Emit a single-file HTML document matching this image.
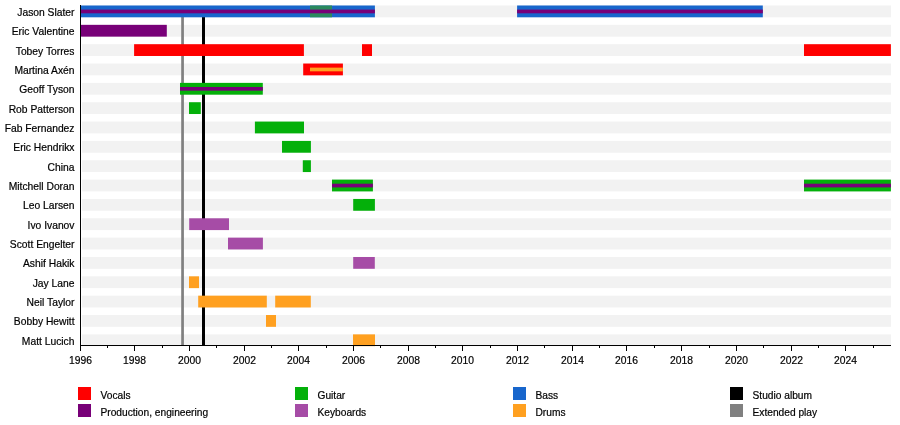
<!DOCTYPE html>
<html><head><meta charset="utf-8"><style>
html,body{margin:0;padding:0;background:#fff;width:900px;height:425px;overflow:hidden;position:relative}
svg text{font-family:"Liberation Sans",sans-serif}
svg{will-change:transform}
svg text{stroke:#000;stroke-width:0.2px}
</style></head><body>
<svg width="900" height="425" viewBox="0 0 900 425" style="position:absolute;left:0;top:0">
<rect x="82" y="5.50" width="809" height="11.8" fill="#f2f2f2"/>
<rect x="82" y="24.84" width="809" height="11.8" fill="#f2f2f2"/>
<rect x="82" y="44.19" width="809" height="11.8" fill="#f2f2f2"/>
<rect x="82" y="63.53" width="809" height="11.8" fill="#f2f2f2"/>
<rect x="82" y="82.88" width="809" height="11.8" fill="#f2f2f2"/>
<rect x="82" y="102.22" width="809" height="11.8" fill="#f2f2f2"/>
<rect x="82" y="121.57" width="809" height="11.8" fill="#f2f2f2"/>
<rect x="82" y="140.91" width="809" height="11.8" fill="#f2f2f2"/>
<rect x="82" y="160.26" width="809" height="11.8" fill="#f2f2f2"/>
<rect x="82" y="179.60" width="809" height="11.8" fill="#f2f2f2"/>
<rect x="82" y="198.95" width="809" height="11.8" fill="#f2f2f2"/>
<rect x="82" y="218.29" width="809" height="11.8" fill="#f2f2f2"/>
<rect x="82" y="237.64" width="809" height="11.8" fill="#f2f2f2"/>
<rect x="82" y="256.99" width="809" height="11.8" fill="#f2f2f2"/>
<rect x="82" y="276.33" width="809" height="11.8" fill="#f2f2f2"/>
<rect x="82" y="295.67" width="809" height="11.8" fill="#f2f2f2"/>
<rect x="82" y="315.02" width="809" height="11.8" fill="#f2f2f2"/>
<rect x="82" y="334.37" width="809" height="11.8" fill="#f2f2f2"/>
<rect x="181.2" y="17" width="2.7" height="328" fill="#808080"/>
<rect x="202" y="17" width="3" height="328" fill="#000"/>
<rect x="80.5" y="5.50" width="294.40" height="11.8" fill="#1866cc"/>
<rect x="310" y="5.50" width="22.00" height="11.8" fill="#2a8a5e"/>
<rect x="80.5" y="9.60" width="294.40" height="3.7" fill="#780078"/>
<rect x="517.1" y="5.50" width="245.70" height="11.8" fill="#1866cc"/>
<rect x="517.1" y="9.60" width="245.70" height="3.7" fill="#780078"/>
<rect x="80.5" y="24.84" width="86.30" height="11.8" fill="#780078"/>
<rect x="134.1" y="44.19" width="169.80" height="11.8" fill="#ff0000"/>
<rect x="362" y="44.19" width="10.00" height="11.8" fill="#ff0000"/>
<rect x="804" y="44.19" width="86.90" height="11.8" fill="#ff0000"/>
<rect x="303.2" y="63.53" width="39.70" height="11.8" fill="#ff0000"/>
<rect x="310" y="67.63" width="32.90" height="3.7" fill="#ffa020"/>
<rect x="180" y="82.88" width="82.80" height="11.8" fill="#04b00a"/>
<rect x="180" y="86.98" width="82.80" height="3.7" fill="#780078"/>
<rect x="189" y="102.22" width="11.80" height="11.8" fill="#04b00a"/>
<rect x="254.9" y="121.57" width="49.10" height="11.8" fill="#04b00a"/>
<rect x="282" y="140.91" width="28.90" height="11.8" fill="#04b00a"/>
<rect x="302.8" y="160.26" width="8.10" height="11.8" fill="#04b00a"/>
<rect x="332" y="179.60" width="40.90" height="11.8" fill="#04b00a"/>
<rect x="332" y="183.70" width="40.90" height="3.7" fill="#780078"/>
<rect x="804" y="179.60" width="86.90" height="11.8" fill="#04b00a"/>
<rect x="804" y="183.70" width="86.90" height="3.7" fill="#780078"/>
<rect x="353.2" y="198.95" width="21.70" height="11.8" fill="#04b00a"/>
<rect x="189.2" y="218.29" width="39.80" height="11.8" fill="#a64ca6"/>
<rect x="228" y="237.64" width="34.90" height="11.8" fill="#a64ca6"/>
<rect x="353.2" y="256.99" width="21.60" height="11.8" fill="#a64ca6"/>
<rect x="189" y="276.33" width="10.00" height="11.8" fill="#ffa020"/>
<rect x="198.2" y="295.67" width="68.60" height="11.8" fill="#ffa020"/>
<rect x="275.2" y="295.67" width="35.60" height="11.8" fill="#ffa020"/>
<rect x="266" y="315.02" width="10.00" height="11.8" fill="#ffa020"/>
<rect x="353" y="334.37" width="22.00" height="11.8" fill="#ffa020"/>
<rect x="80" y="5" width="1" height="346" fill="#000"/>
<rect x="80" y="345" width="811" height="1" fill="#000"/>
<rect x="80" y="345" width="1" height="6" fill="#000"/>
<text x="80.50" y="364" text-anchor="middle" font-family="Liberation Sans" font-size="10.3" fill="#000">1996</text>
<rect x="107" y="345" width="1" height="3" fill="#000"/>
<rect x="134" y="345" width="1" height="6" fill="#000"/>
<text x="134.50" y="364" text-anchor="middle" font-family="Liberation Sans" font-size="10.3" fill="#000">1998</text>
<rect x="162" y="345" width="1" height="3" fill="#000"/>
<rect x="189" y="345" width="1" height="6" fill="#000"/>
<text x="189.50" y="364" text-anchor="middle" font-family="Liberation Sans" font-size="10.3" fill="#000">2000</text>
<rect x="216" y="345" width="1" height="3" fill="#000"/>
<rect x="244" y="345" width="1" height="6" fill="#000"/>
<text x="244.50" y="364" text-anchor="middle" font-family="Liberation Sans" font-size="10.3" fill="#000">2002</text>
<rect x="271" y="345" width="1" height="3" fill="#000"/>
<rect x="298" y="345" width="1" height="6" fill="#000"/>
<text x="298.50" y="364" text-anchor="middle" font-family="Liberation Sans" font-size="10.3" fill="#000">2004</text>
<rect x="326" y="345" width="1" height="3" fill="#000"/>
<rect x="353" y="345" width="1" height="6" fill="#000"/>
<text x="353.50" y="364" text-anchor="middle" font-family="Liberation Sans" font-size="10.3" fill="#000">2006</text>
<rect x="380" y="345" width="1" height="3" fill="#000"/>
<rect x="408" y="345" width="1" height="6" fill="#000"/>
<text x="408.50" y="364" text-anchor="middle" font-family="Liberation Sans" font-size="10.3" fill="#000">2008</text>
<rect x="435" y="345" width="1" height="3" fill="#000"/>
<rect x="462" y="345" width="1" height="6" fill="#000"/>
<text x="462.50" y="364" text-anchor="middle" font-family="Liberation Sans" font-size="10.3" fill="#000">2010</text>
<rect x="490" y="345" width="1" height="3" fill="#000"/>
<rect x="517" y="345" width="1" height="6" fill="#000"/>
<text x="517.50" y="364" text-anchor="middle" font-family="Liberation Sans" font-size="10.3" fill="#000">2012</text>
<rect x="544" y="345" width="1" height="3" fill="#000"/>
<rect x="572" y="345" width="1" height="6" fill="#000"/>
<text x="572.50" y="364" text-anchor="middle" font-family="Liberation Sans" font-size="10.3" fill="#000">2014</text>
<rect x="599" y="345" width="1" height="3" fill="#000"/>
<rect x="626" y="345" width="1" height="6" fill="#000"/>
<text x="626.50" y="364" text-anchor="middle" font-family="Liberation Sans" font-size="10.3" fill="#000">2016</text>
<rect x="654" y="345" width="1" height="3" fill="#000"/>
<rect x="681" y="345" width="1" height="6" fill="#000"/>
<text x="681.50" y="364" text-anchor="middle" font-family="Liberation Sans" font-size="10.3" fill="#000">2018</text>
<rect x="709" y="345" width="1" height="3" fill="#000"/>
<rect x="736" y="345" width="1" height="6" fill="#000"/>
<text x="736.50" y="364" text-anchor="middle" font-family="Liberation Sans" font-size="10.3" fill="#000">2020</text>
<rect x="763" y="345" width="1" height="3" fill="#000"/>
<rect x="791" y="345" width="1" height="6" fill="#000"/>
<text x="791.50" y="364" text-anchor="middle" font-family="Liberation Sans" font-size="10.3" fill="#000">2022</text>
<rect x="818" y="345" width="1" height="3" fill="#000"/>
<rect x="845" y="345" width="1" height="6" fill="#000"/>
<text x="845.50" y="364" text-anchor="middle" font-family="Liberation Sans" font-size="10.3" fill="#000">2024</text>
<rect x="873" y="345" width="1" height="3" fill="#000"/>
<text x="74.5" y="15.90" text-anchor="end" font-family="Liberation Sans" font-size="10.3" fill="#000">Jason Slater</text>
<text x="74.5" y="35.24" text-anchor="end" font-family="Liberation Sans" font-size="10.3" fill="#000">Eric Valentine</text>
<text x="74.5" y="54.59" text-anchor="end" font-family="Liberation Sans" font-size="10.3" fill="#000">Tobey Torres</text>
<text x="74.5" y="73.94" text-anchor="end" font-family="Liberation Sans" font-size="10.3" fill="#000">Martina Axén</text>
<text x="74.5" y="93.28" text-anchor="end" font-family="Liberation Sans" font-size="10.3" fill="#000">Geoff Tyson</text>
<text x="74.5" y="112.62" text-anchor="end" font-family="Liberation Sans" font-size="10.3" fill="#000">Rob Patterson</text>
<text x="74.5" y="131.97" text-anchor="end" font-family="Liberation Sans" font-size="10.3" fill="#000">Fab Fernandez</text>
<text x="74.5" y="151.31" text-anchor="end" font-family="Liberation Sans" font-size="10.3" fill="#000">Eric Hendrikx</text>
<text x="74.5" y="170.66" text-anchor="end" font-family="Liberation Sans" font-size="10.3" fill="#000">China</text>
<text x="74.5" y="190.00" text-anchor="end" font-family="Liberation Sans" font-size="10.3" fill="#000">Mitchell Doran</text>
<text x="74.5" y="209.35" text-anchor="end" font-family="Liberation Sans" font-size="10.3" fill="#000">Leo Larsen</text>
<text x="74.5" y="228.69" text-anchor="end" font-family="Liberation Sans" font-size="10.3" fill="#000">Ivo Ivanov</text>
<text x="74.5" y="248.04" text-anchor="end" font-family="Liberation Sans" font-size="10.3" fill="#000">Scott Engelter</text>
<text x="74.5" y="267.38" text-anchor="end" font-family="Liberation Sans" font-size="10.3" fill="#000">Ashif Hakik</text>
<text x="74.5" y="286.73" text-anchor="end" font-family="Liberation Sans" font-size="10.3" fill="#000">Jay Lane</text>
<text x="74.5" y="306.07" text-anchor="end" font-family="Liberation Sans" font-size="10.3" fill="#000">Neil Taylor</text>
<text x="74.5" y="325.42" text-anchor="end" font-family="Liberation Sans" font-size="10.3" fill="#000">Bobby Hewitt</text>
<text x="74.5" y="344.76" text-anchor="end" font-family="Liberation Sans" font-size="10.3" fill="#000">Matt Lucich</text>
<rect x="78" y="387" width="13" height="13" fill="#ff0000"/>
<text x="100.5" y="399.2" font-family="Liberation Sans" font-size="10.2" fill="#000">Vocals</text>
<rect x="78" y="404" width="13" height="13" fill="#780078"/>
<text x="100.5" y="416.2" font-family="Liberation Sans" font-size="10.2" fill="#000">Production, engineering</text>
<rect x="295" y="387" width="13" height="13" fill="#04b00a"/>
<text x="317.5" y="399.2" font-family="Liberation Sans" font-size="10.2" fill="#000">Guitar</text>
<rect x="295" y="404" width="13" height="13" fill="#a64ca6"/>
<text x="317.5" y="416.2" font-family="Liberation Sans" font-size="10.2" fill="#000">Keyboards</text>
<rect x="513" y="387" width="13" height="13" fill="#1866cc"/>
<text x="535.5" y="399.2" font-family="Liberation Sans" font-size="10.2" fill="#000">Bass</text>
<rect x="513" y="404" width="13" height="13" fill="#ffa020"/>
<text x="535.5" y="416.2" font-family="Liberation Sans" font-size="10.2" fill="#000">Drums</text>
<rect x="730" y="387" width="13" height="13" fill="#000"/>
<text x="752.5" y="399.2" font-family="Liberation Sans" font-size="10.2" fill="#000">Studio album</text>
<rect x="730" y="404" width="13" height="13" fill="#808080"/>
<text x="752.5" y="416.2" font-family="Liberation Sans" font-size="10.2" fill="#000">Extended play</text>
</svg>
</body></html>
